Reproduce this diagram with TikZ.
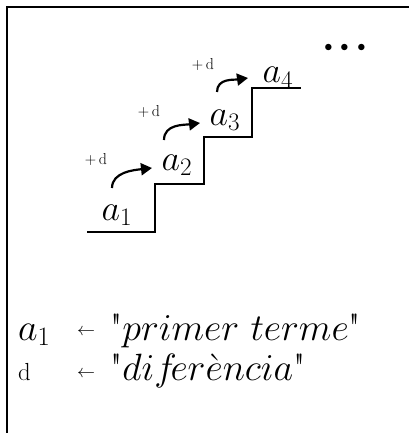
\documentclass[tikz,border=0pt]{standalone}
\usepackage{fix-cm}
\usetikzlibrary{arrows.meta, positioning}

\begin{document}
\begin{tikzpicture}[x=1pt, y=-1pt,
    frame/.style={line width=1.8pt},
    stair/.style={line width=2.5pt},
    term/.style={font=\fontsize{36}{40}\selectfont, inner sep=0pt, anchor=base},
    plusd/.style={font=\fontsize{36}{40}\selectfont, inner sep=0pt, anchor=base},
    jump/.style={-{Triangle[length=11pt,width=12pt]}, line width=2.2pt},
    legend/.style={font=\fontsize{38}{40}\selectfont, inner sep=0pt, anchor=base west},
    larrow/.style={font=\fontsize{36}{40}\selectfont, inner sep=0pt},
]
\useasboundingbox (0,0) rectangle (409,433);

% frame (only left and top edges show)
\draw[frame] (7,433) |- (409,7);

% the stairs
\draw[stair] (87,232) -- (155,232) -- (155,184) -- (204,184) -- (204,137)
    -- (252,137) -- (252,88) -- (301,88);

% terms on the steps
\node[term] (a1) at (117,220) {$a_1$};
\node[term] (a2) at (177,170) {$a_2$};
\node[term] (a3) at (225,125) {$a_3$};
\node[term] (a4) at (278,83) {$a_4$};
\node[font=\fontsize{60}{60}\selectfont, inner sep=0pt] (dots) at (345,49)
    {$\cdotp\mkern-3mu\cdotp\mkern-3mu\cdotp$};

% +d jumps
\node[plusd] (d1) at (96,164) {\scalebox{0.44}{$+\,\mathrm{d}$}};
\node[plusd] (d2) at (149,117) {\scalebox{0.44}{$+\,\mathrm{d}$}};
\node[plusd] (d3) at (203,70) {\scalebox{0.44}{$+\,\mathrm{d}$}};

\coordinate (j1s) at (112,188);
\coordinate (j1e) at (152,168);
\coordinate (j2s) at (164,140);
\coordinate (j2e) at (200,123);
\coordinate (j3s) at (217,92);
\coordinate (j3e) at (248,78);
\draw[jump] (j1s) .. controls +(0,-16) and +(-18,2) .. (j1e);
\draw[jump] (j2s) .. controls +(0,-16) and +(-16,2) .. (j2e);
\draw[jump] (j3s) .. controls +(0,-14) and +(-14,2) .. (j3e);

% legend
\node[legend] (la) at (18,340) {$a_1$};
\node[larrow] (laarr) at (86,332) {\scalebox{0.5}{$\leftarrow$}};
\node[legend] (latxt) at (110,340) {\textquotedbl$primer\ terme$\textquotedbl};
\node[legend] (ld) at (18,380) {\scalebox{0.65}{$\mathrm{d}$}};
\node[larrow] (ldarr) at (86,374) {\scalebox{0.5}{$\leftarrow$}};
\node[legend] (ldtxt) at (110,380) {\textquotedbl$dif\!er\grave{e}ncia$\textquotedbl};

\end{tikzpicture}
\end{document}
